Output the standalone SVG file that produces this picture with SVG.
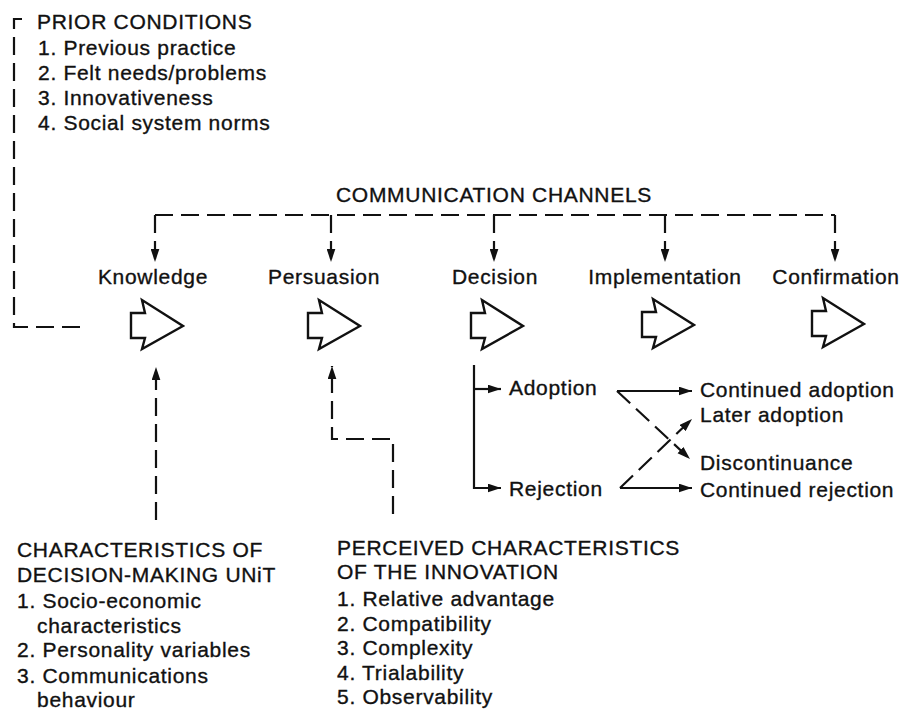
<svg xmlns="http://www.w3.org/2000/svg" width="907" height="715" viewBox="0 0 907 715">
<style>
text{font-family:"Liberation Sans",Arial,Helvetica,sans-serif;font-size:21px;letter-spacing:0.7px;fill:#111;stroke:#111;stroke-width:0.35px}
.c{text-anchor:middle}
.ln{fill:none;stroke:#111;stroke-width:2.2}
.d{stroke-dasharray:18 8}
.blk{fill:#fff;stroke:#111;stroke-width:2.4;stroke-linejoin:miter}
</style>
<defs>
<marker id="ah" viewBox="0 0 12 8" refX="12" refY="4" markerWidth="13" markerHeight="9" markerUnits="userSpaceOnUse" orient="auto">
<path d="M0,0 L12,4 L0,8 z" fill="#111"/>
</marker>
<path id="blockArrow" class="blk" d="M0,0 H14 L11,-13 L52,13 L11,36 L14,25 H0 Z"/>
</defs>
<rect width="907" height="715" fill="#fff"/>

<g id="prior-conditions">
<text x="37" y="29">PRIOR CONDITIONS</text>
<text x="38" y="55">1. Previous practice</text>
<text x="38" y="80">2. Felt needs/problems</text>
<text x="38" y="105">3. Innovativeness</text>
<text x="38" y="130">4. Social system norms</text>
</g>

<g id="communication-channels">
<text x="494" y="202" class="c">COMMUNICATION CHANNELS</text>
</g>

<g id="knowledge">
<text x="153" y="284" class="c">Knowledge</text>
<use href="#blockArrow" x="131" y="313"/>
</g>
<g id="persuasion">
<text x="324" y="284" class="c">Persuasion</text>
<use href="#blockArrow" x="308" y="313"/>
</g>
<g id="decision">
<text x="495" y="284" class="c">Decision</text>
<use href="#blockArrow" x="471" y="313"/>
</g>
<g id="implementation">
<text x="665" y="284" class="c">Implementation</text>
<use href="#blockArrow" x="642" y="312"/>
</g>
<g id="confirmation">
<text x="836" y="284" class="c">Confirmation</text>
<use href="#blockArrow" x="812" y="311"/>
</g>

<g id="adoption"><text x="509" y="395">Adoption</text></g>
<g id="rejection"><text x="509" y="496">Rejection</text></g>
<g id="continued-adoption"><text x="700" y="397">Continued adoption</text></g>
<g id="later-adoption"><text x="700" y="422">Later adoption</text></g>
<g id="discontinuance"><text x="700" y="470">Discontinuance</text></g>
<g id="continued-rejection"><text x="700" y="497">Continued rejection</text></g>

<g id="decision-making-unit">
<text x="17" y="557">CHARACTERISTICS OF</text>
<text x="17" y="582">DECISION-MAKING UNiT</text>
<text x="17" y="608">1. Socio-economic</text>
<text x="37" y="633">characteristics</text>
<text x="17" y="657">2. Personality variables</text>
<text x="17" y="683">3. Communications</text>
<text x="37" y="707">behaviour</text>
</g>

<g id="perceived-characteristics">
<text x="337" y="555">PERCEIVED CHARACTERISTICS</text>
<text x="337" y="579">OF THE INNOVATION</text>
<text x="337" y="606">1. Relative advantage</text>
<text x="337" y="631">2. Compatibility</text>
<text x="337" y="655">3. Complexity</text>
<text x="337" y="680">4. Trialability</text>
<text x="337" y="704">5. Observability</text>
</g>

<g id="connectors">
<path class="ln d" d="M22,19 H14 V327 H88"/>
<path class="ln d" d="M155,215 H835"/>
<path class="ln d" d="M155,215 V262" marker-end="url(#ah)"/>
<path class="ln d" d="M331,215 V262" marker-end="url(#ah)"/>
<path class="ln d" d="M494,215 V262" marker-end="url(#ah)"/>
<path class="ln d" d="M665,215 V262" marker-end="url(#ah)"/>
<path class="ln d" d="M835,215 V262" marker-end="url(#ah)"/>
<path class="ln d" d="M156,520 V367" marker-end="url(#ah)"/>
<path class="ln d" d="M393,514 V439 H332 V366" marker-end="url(#ah)"/>
<path class="ln" d="M474,365 V488 H501" marker-end="url(#ah)"/>
<path class="ln" d="M474,389 H501" marker-end="url(#ah)"/>
<path class="ln" d="M617,391 H692" marker-end="url(#ah)"/>
<path class="ln d" d="M617,391 L690,459" marker-end="url(#ah)"/>
<path class="ln" d="M620,488 H692" marker-end="url(#ah)"/>
<path class="ln d" d="M620,488 L692,419" marker-end="url(#ah)"/>
</g>
</svg>
